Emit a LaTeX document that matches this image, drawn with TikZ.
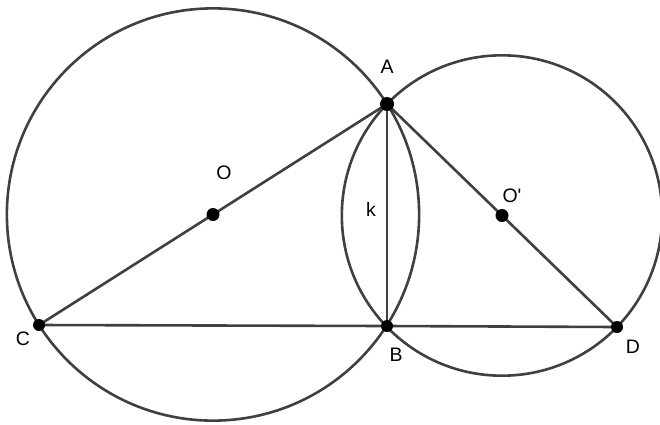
\documentclass[tikz,border=0pt]{standalone}
\usepackage{fontspec}
\setmainfont{Liberation Sans}
\usetikzlibrary{calc}
\definecolor{linegray}{HTML}{404040}
\tikzset{
  geo/.style={draw=linegray, line width=2.6pt},
  dotpt/.style={fill=black},
  lbl/.style={font=\fontsize{19.5}{22}\selectfont, text=black, inner sep=0pt}
}
\begin{document}
\begin{tikzpicture}[x=1pt, y=-1pt]
\useasboundingbox (0,0) rectangle (660,424);
\clip (0,0) rectangle (660,424);
\fill[white] (0,0) rectangle (660,424);
\coordinate (A) at (387,104);
\coordinate (B) at (387,326);
\coordinate (C) at (39,325);
\coordinate (D) at (617,327);
\coordinate (O) at ($(C)!0.5!(A)$);
\coordinate (O2) at ($(A)!0.5!(D)$);
% circles
\draw[geo] let \p1=($(A)-(O)$), \n1={veclen(\x1,\y1)} in (O) circle [radius=\n1];
\draw[geo] let \p1=($(A)-(O2)$), \n1={veclen(\x1,\y1)} in (O2) circle [radius=\n1];
% segments
\draw[geo] (C) -- (A);
\draw[geo] (A) -- (D);
\draw[geo] (C) -- (B) -- (D);
\draw[geo] (A) -- (B);
% points
\fill[dotpt] (A) circle (7);
\fill[dotpt] (B) circle (6);
\fill[dotpt] (C) circle (6);
\fill[dotpt] (D) circle (6);
\fill[dotpt] (O) circle (6.5);
\fill[dotpt] (O2) circle (6.5);
% labels
\node[lbl] (lA) at (387,67) {A};
\node[lbl] (lB) at (396,355) {B};
\node[lbl] (lC) at (23,339) {C};
\node[lbl] (lD) at (633,347) {D};
\node[lbl] (lO) at (224,173) {O};
\node[lbl] (lO2) at (512,196) {O\textquotesingle};
\node[lbl] (lk) at (371,209) {k};
\end{tikzpicture}
\end{document}
